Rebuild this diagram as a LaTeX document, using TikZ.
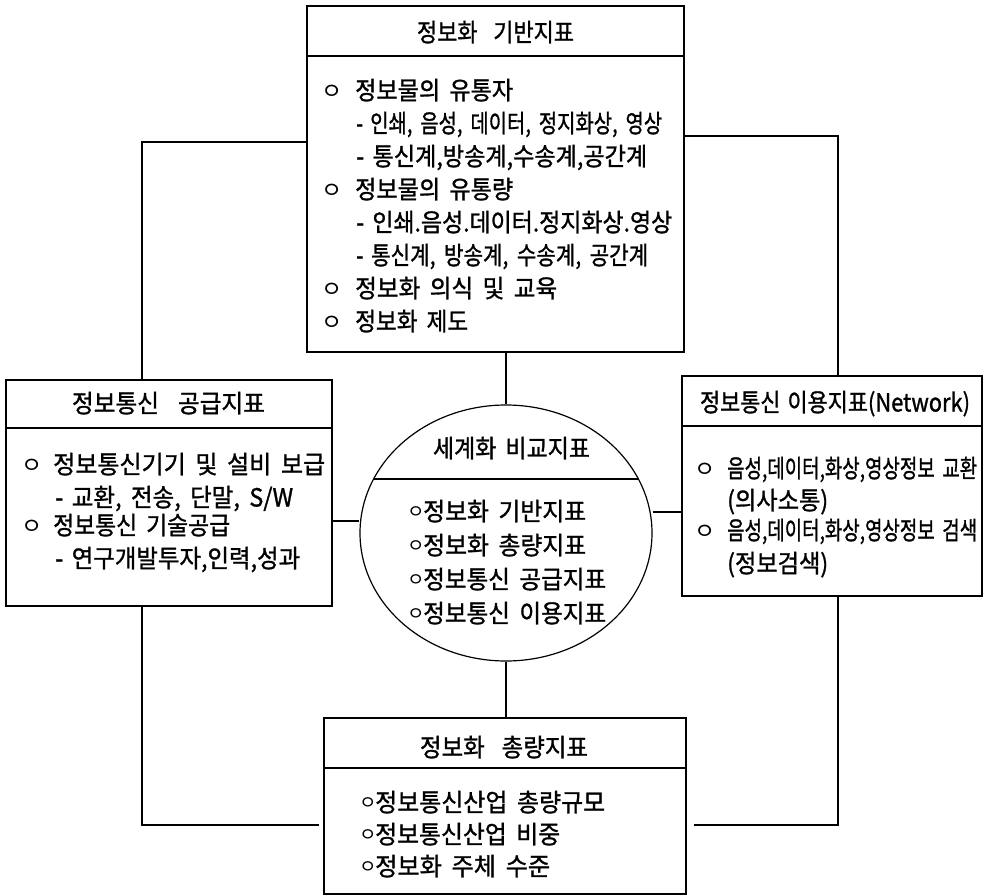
\documentclass[tikz,border=0pt]{standalone}
\usepackage{fontspec}
\usepackage{graphicx}
\usetikzlibrary{shapes.geometric}
\newfontfamily\kr{Noto Sans CJK KR}[FakeBold=1.2]
\newfontfamily\krl{Noto Sans CJK KR}
\newsavebox\fitbox
\newcommand\fitto[2]{\sbox\fitbox{\spaceskip=0.4em\relax #2}\pgfmathsetmacro\fitf{#1/(\wd\fitbox)}\scalebox{\fitf}[1]{\usebox\fitbox}}
\newcommand\gap[1]{\hspace*{#1pt}}
\begin{document}
\begin{tikzpicture}[x=1pt,y=-1pt,
  boxst/.style={draw, line width=1.2pt, inner sep=0pt, rectangle},
  ellst/.style={draw, line width=1.2pt, inner sep=0pt, ellipse},
  txt/.style={inner sep=0pt, anchor=west, font=\kr\fontsize{25pt}{29pt}\selectfont, text height=20.5pt, text depth=1.5pt},
  ttl/.style={txt, anchor=center},
  bul/.style={inner sep=0pt, font=\krl\fontsize{23pt}{26pt}\selectfont, text height=20pt, text depth=1.6pt},
  sbul/.style={bul, font=\krl\fontsize{19pt}{22pt}\selectfont, text height=17pt},
  link/.style={draw, line width=1.2pt}]
\fill[white] (0,0) rectangle (988,896);
\useasboundingbox (0,0) rectangle (988,896);

% boxes
\node[boxst, minimum width=377pt, minimum height=346pt] (B1) at (495.5,179) {};
\node[boxst, minimum width=326pt, minimum height=226pt] (B2) at (169,493) {};
\node[boxst, minimum width=300pt, minimum height=220pt] (B3) at (832,486) {};
\node[boxst, minimum width=362pt, minimum height=176pt] (B5) at (505,806) {};
\node[ellst, minimum width=292pt, minimum height=256pt] (C) at (506,533) {};

% header lines
\coordinate (h1) at (0,56);
\coordinate (h2) at (0,428);
\coordinate (h3) at (0,426);
\coordinate (h5) at (0,768);
\draw[link] (B1.west |- h1) -- (B1.east |- h1);
\draw[link] (B2.west |- h2) -- (B2.east |- h2);
\draw[link] (B3.west |- h3) -- (B3.east |- h3);
\draw[link] (B5.west |- h5) -- (B5.east |- h5);
\begin{scope}
  \clip (506,533) ellipse [x radius=146pt, y radius=128pt];
  \draw[link] (300,479) -- (700,479);
\end{scope}

% connectors
\coordinate (xl) at (142,0);
\coordinate (xr) at (838,0);
\coordinate (yt1) at (0,142);
\coordinate (yt2) at (0,136);
\coordinate (yb) at (0,825);
\coordinate (yl) at (0,521);
\coordinate (yr) at (0,512);
\draw[link] (B1.west |- yt1) -| (B2.north -| xl);
\draw[link] (B1.east |- yt2) -| (B3.north -| xr);
\draw[link, shorten >=4pt] (B2.south -| xl) |- (B5.west |- yb);
\draw[link, shorten >=7pt] (B3.south -| xr) |- (B5.east |- yb);
\draw[link] (B1.south -| C.north) -- (C.north);
\draw[link] (C.south) -- (B5.north -| C.south);
\draw[link] (B2.east |- yl) -- (C.west |- yl);
\draw[link] (C.east |- yr) -- (B3.west |- yr);

% top box
\node[ttl] (t1h) at (495.5,32) {\fitto{157}{정보화\gap{18}기반지표}};
\node[bul] (b1a) at (332,90) {ㅇ};
\node[bul] (b1d) at (332,189) {ㅇ};
\node[bul] (b1g) at (332,288) {ㅇ};
\node[bul] (b1h) at (332,321) {ㅇ};
\node[txt] (t1a) at (355,90) {\fitto{158}{정보물의 유통자}};
\node[txt] (t1b) at (356,123) {\fitto{306}{-\gap{9}인쇄, 음성, 데이터, 정지화상, 영상}};
\node[txt] (t1c) at (356,156) {\fitto{291}{-\gap{9}통신계,방송계,수송계,공간계}};
\node[txt] (t1d) at (355,189) {\fitto{158}{정보물의 유통량}};
\node[txt] (t1e) at (356,222) {\fitto{316}{-\gap{9}인쇄.음성.데이터.정지화상.영상}};
\node[txt] (t1f) at (356,255) {\fitto{292}{-\gap{9}통신계, 방송계, 수송계, 공간계}};
\node[txt] (t1g) at (355,288) {\fitto{202}{정보화 의식 및 교육}};
\node[txt] (t1i) at (355,321) {\fitto{113}{정보화 제도}};

% left box
\node[ttl] (t2h) at (168.5,403) {\fitto{193}{정보통신\gap{20}공급지표}};
\node[bul] (b2a) at (32,464) {ㅇ};
\node[bul] (b2c) at (32,525) {ㅇ};
\node[txt] (t2a) at (53,464) {\fitto{272}{정보통신기기 및 설비 보급}};
\node[txt] (t2b) at (55,497) {\fitto{238}{-\gap{9}교환, 전송, 단말, S/W}};
\node[txt] (t2c) at (53,525) {\fitto{177}{정보통신 기술공급}};
\node[txt] (t2d) at (55,558) {\fitto{245}{-\gap{9}연구개발투자,인력,성과}};

% right box
\node[ttl] (t3h) at (835,402) {\fitto{270}{정보통신\gap{8}이용지표(Network)}};
\node[bul] (b3a) at (705,468) {ㅇ};
\node[bul] (b3c) at (705,530) {ㅇ};
\node[txt] (t3a) at (727,468) {\fitto{250}{음성,데이터,화상,영상정보 교환}};
\node[txt] (t3b) at (727,500) {\fitto{101}{(의사소통)}};
\node[txt] (t3c) at (727,530) {\fitto{250}{음성,데이터,화상,영상정보 검색}};
\node[txt] (t3d) at (727,563) {\fitto{101}{(정보검색)}};

% circle
\node[ttl] (t4h) at (511.5,448) {\fitto{157}{세계화 비교지표}};
\node[sbul] (b4a) at (416,511) {ㅇ};
\node[sbul] (b4b) at (416,545) {ㅇ};
\node[sbul] (b4c) at (416,579) {ㅇ};
\node[sbul] (b4d) at (416,613) {ㅇ};
\node[txt] (t4a) at (423,511) {\fitto{163}{정보화 기반지표}};
\node[txt] (t4b) at (423,545) {\fitto{163}{정보화 총량지표}};
\node[txt] (t4c) at (423,579) {\fitto{183}{정보통신 공급지표}};
\node[txt] (t4d) at (423,613) {\fitto{183}{정보통신 이용지표}};

% bottom box
\node[ttl] (t5h) at (504,747) {\fitto{168}{정보화\gap{18}총량지표}};
\node[sbul] (b5a) at (368,802) {ㅇ};
\node[sbul] (b5b) at (368,834) {ㅇ};
\node[sbul] (b5c) at (368,866) {ㅇ};
\node[txt] (t5a) at (375,802) {\fitto{230}{정보통신산업 총량규모}};
\node[txt] (t5b) at (375,834) {\fitto{185}{정보통신산업 비중}};
\node[txt] (t5c) at (375,866) {\fitto{175}{정보화 주체 수준}};
\end{tikzpicture}
\end{document}
